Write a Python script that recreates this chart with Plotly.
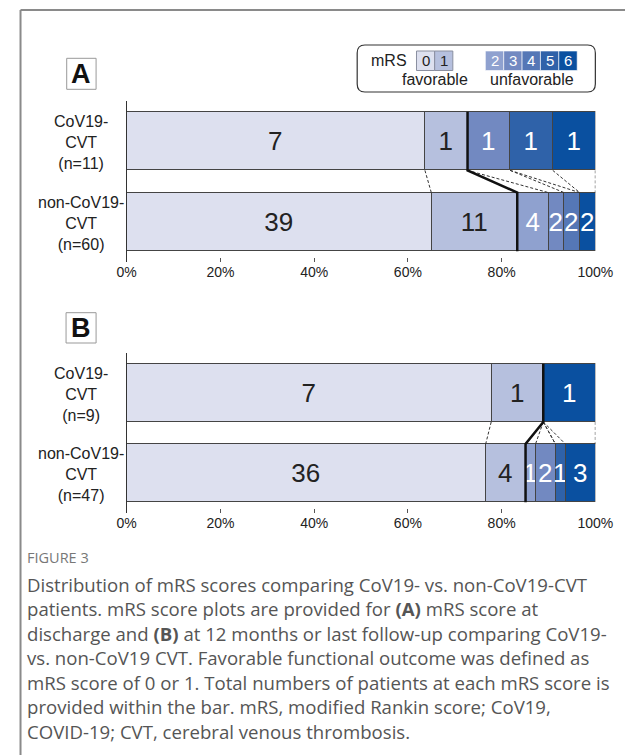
import plotly.graph_objects as go

W, H = 643, 755

# ---------------- data ----------------
levels = ["0", "1", "2", "3", "4", "5", "6"]
colors = ["#dde0ef", "#b6c0de", "#8fa1cf", "#7289c1", "#5577b6", "#2f62a9", "#0a50a0"]
text_colors = ["#222222", "#222222", "#ffffff", "#ffffff", "#ffffff", "#ffffff", "#ffffff"]

a_labels = ["non-CoV19-<br>CVT<br>(n=60)", "CoV19-<br>CVT<br>(n=11)"]
a_cov = [7, 1, 0, 1, 0, 1, 1]
a_non = [39, 11, 4, 2, 2, 0, 2]

b_labels = ["non-CoV19-<br>CVT<br>(n=47)", "CoV19-<br>CVT<br>(n=9)"]
b_cov = [7, 1, 0, 0, 0, 0, 1]
b_non = [36, 4, 1, 2, 0, 1, 3]

tick_vals = [0, 20, 40, 60, 80, 100]
tick_text = ["0%", "20%", "40%", "60%", "80%", "100%"]

caption_head = "FIGURE 3"
caption_lines = [
    "Distribution of mRS scores comparing CoV19- vs. non-CoV19-CVT",
    "patients. mRS score plots are provided for <b>(A)</b> mRS score at",
    "discharge and <b>(B)</b> at 12 months or last follow-up comparing CoV19-",
    "vs. non-CoV19 CVT. Favorable functional outcome was defined as",
    "mRS score of 0 or 1. Total numbers of patients at each mRS score is",
    "provided within the bar. mRS, modified Rankin score; CoV19,",
    "COVID-19; CVT, cerebral venous thrombosis.",
]

FONT = "Liberation Sans, Arial, sans-serif"
CAP_FONT = "Open Sans, Lato, sans-serif"


def px(x):
    return x / W


def py(y):
    return 1 - y / H


def pct(vals):
    n = sum(vals)
    return [100.0 * v / n for v in vals]


def cum(vals):
    n = sum(vals)
    s = 0
    out = []
    for v in vals:
        s += v
        out.append(100.0 * s / n)
    return out


fig = go.Figure()
HB = 0.3625  # half bar thickness in axis units

panels = [
    ("x", "y", a_cov, a_non, a_labels),
    ("x2", "y2", b_cov, b_non, b_labels),
]

shapes = []
annotations = []

for xa, ya, cov, non, labels in panels:
    pc, pn = pct(cov), pct(non)
    for i, lv in enumerate(levels):
        fig.add_trace(go.Bar(
            orientation="h",
            y=[0, 1],
            x=[pn[i], pc[i]],
            text=[str(non[i]) if non[i] > 0 else "", str(cov[i]) if cov[i] > 0 else ""],
            textposition="inside",
            insidetextanchor="middle",
            constraintext="none",
            textangle=0,
            textfont=dict(size=26, color=text_colors[i], family=FONT),
            marker=dict(color=colors[i], line=dict(color="#444444", width=1)),
            width=0.725,
            xaxis=xa, yaxis=ya,
            showlegend=False,
            hoverinfo="skip",
            name="mRS " + lv,
        ))
    cc, cn = cum(cov), cum(non)
    for i in range(len(levels)):
        if i == 1:
            continue
        shapes.append(dict(type="line", xref=xa, yref=ya,
                           x0=cc[i], y0=1 - HB, x1=cn[i], y1=HB,
                           line=dict(color="#333333", width=1, dash="3px,2px")))
    shapes.append(dict(type="path", xref=xa, yref=ya,
                       path=f"M {cc[1]},{1 + HB} L {cc[1]},{1 - HB} L {cn[1]},{HB} L {cn[1]},{-HB}",
                       line=dict(color="#111111", width=2.5)))
    # category labels
    for yv, lab in zip([0, 1], labels):
        annotations.append(dict(xref="paper", yref=ya, x=px(74), y=yv - 0.02, text=lab,
                                showarrow=False, align="center", xanchor="center", yanchor="middle",
                                font=dict(size=16, color="#222222", family=FONT)))

axis_common_x = dict(range=[0, 100], tickvals=tick_vals, ticktext=tick_text,
                     showgrid=False, zeroline=False, showline=False,
                     ticks="inside", ticklen=4, tickcolor="#555555",
                     tickfont=dict(size=14, color="#222222", family=FONT), fixedrange=True)
axis_common_y = dict(range=[-0.495, 1.495], showticklabels=False, showgrid=False,
                     zeroline=False, showline=True, linecolor="#333333", linewidth=1,
                     ticks="", fixedrange=True)

fig.update_layout(
    width=W, height=H,
    margin=dict(l=0, r=0, t=0, b=0),
    paper_bgcolor="white", plot_bgcolor="white",
    barmode="stack", bargap=0,
    xaxis=dict(domain=[px(122), px(612)], anchor="y", **axis_common_x),
    yaxis=dict(domain=[py(262), py(101)], anchor="x", **axis_common_y),
    xaxis2=dict(domain=[px(122), px(612)], anchor="y2", **axis_common_x),
    yaxis2=dict(domain=[py(513), py(353)], anchor="x2", **axis_common_y),
)

# outer frame (top and left)
shapes.append(dict(type="line", xref="paper", yref="paper", x0=px(11), y0=py(10), x1=1, y1=py(10),
                   line=dict(color="#8a8a8a", width=2)))
shapes.append(dict(type="line", xref="paper", yref="paper", x0=px(11), y0=py(10), x1=px(11), y1=0,
                   line=dict(color="#8a8a8a", width=2)))

# panel letters
for letter, (x0, y0, x1, y1) in [("A", (59.3, 58.3, 90, 89.3)), ("B", (58.6, 312.7, 90, 343))]:
    shapes.append(dict(type="rect", xref="paper", yref="paper", x0=px(x0), y0=py(y1), x1=px(x1), y1=py(y0),
                       line=dict(color="#999999", width=1), fillcolor="white"))
    annotations.append(dict(xref="paper", yref="paper", x=px((x0 + x1) / 2), y=py((y0 + y1) / 2),
                            text=f"<b>{letter}</b>", showarrow=False, xanchor="center", yanchor="middle",
                            font=dict(size=27, color="#111111", family=FONT)))

# legend box (rounded)
lx0, ly0, lx1, ly1, r = 363, 45, 612, 92, 8
path = (f"M {px(lx0 + r)},{py(ly0)} L {px(lx1 - r)},{py(ly0)} Q {px(lx1)},{py(ly0)} {px(lx1)},{py(ly0 + r)} "
        f"L {px(lx1)},{py(ly1 - r)} Q {px(lx1)},{py(ly1)} {px(lx1 - r)},{py(ly1)} "
        f"L {px(lx0 + r)},{py(ly1)} Q {px(lx0)},{py(ly1)} {px(lx0)},{py(ly1 - r)} "
        f"L {px(lx0)},{py(ly0 + r)} Q {px(lx0)},{py(ly0)} {px(lx0 + r)},{py(ly0)} Z")
shapes.append(dict(type="path", xref="paper", yref="paper", path=path,
                   line=dict(color="#333333", width=1.2)))

sw_x = [425, 444, 497, 516.2, 535.4, 554.6, 573.8]
sw_w = [19, 19, 19.2, 19.2, 19.2, 19.2, 19.2]
for i, lv in enumerate(levels):
    x0 = sw_x[i]
    x1 = x0 + sw_w[i]
    shapes.append(dict(type="rect", xref="paper", yref="paper", x0=px(x0), y0=py(70.5), x1=px(x1), y1=py(51),
                       fillcolor=colors[i],
                       line=dict(color="#8a8fa0" if i < 2 else "rgba(255,255,255,0.6)", width=1)))
    annotations.append(dict(xref="paper", yref="paper", x=px((x0 + x1) / 2), y=py(60.8), text=lv,
                            showarrow=False, xanchor="center", yanchor="middle",
                            font=dict(size=15, color=text_colors[i], family=FONT)))

for txt, cx, cy in [("mRS", 396, 60.7), ("favorable", 444.5, 80), ("unfavorable", 545.5, 80)]:
    annotations.append(dict(xref="paper", yref="paper", x=px(cx), y=py(cy), text=txt,
                            showarrow=False, xanchor="center", yanchor="middle",
                            font=dict(size=16, color="#222222", family=FONT)))

# caption
annotations.append(dict(xref="paper", yref="paper", x=px(16), y=py(557), text=caption_head,
                        showarrow=False, xanchor="left", yanchor="middle",
                        font=dict(size=14.5, color="#777777", family=CAP_FONT)))
cap_y = [584, 608.5, 633, 657.5, 682, 706.5, 731]
for txt, yy in zip(caption_lines, cap_y):
    annotations.append(dict(xref="paper", yref="paper", x=px(16), y=py(yy), text=txt,
                            showarrow=False, xanchor="left", yanchor="middle",
                            font=dict(size=18.6, color="#555555", family=CAP_FONT)))

fig.update_layout(shapes=shapes, annotations=annotations)
fig.write_html("out.html")
